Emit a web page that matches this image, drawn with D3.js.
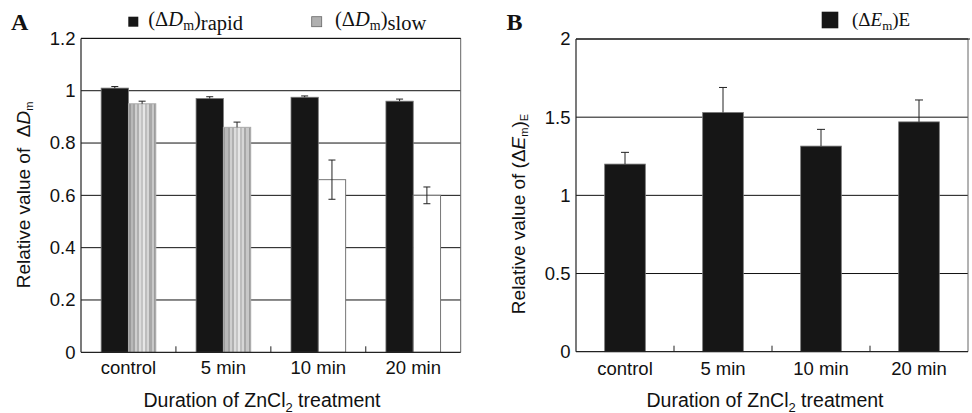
<!DOCTYPE html>
<html><head><meta charset="utf-8">
<script src="https://cdn.jsdelivr.net/npm/d3@7"></script>
<style>body{margin:0;background:#fff} svg{display:block}</style>
</head><body><svg id="c" width="972" height="413"></svg>
<script>
// ---------- data ----------
const categories = ["control", "5 min", "10 min", "20 min"];
const rapidValues = [1.01, 0.97, 0.975, 0.96];
const rapidErrors = [0.006, 0.007, 0.005, 0.008];
const slowValues = [0.95, 0.86, 0.66, 0.60];
const slowErrors = [0.01, 0.02, 0.075, 0.032];
const eValues = [1.2, 1.53, 1.315, 1.47];
const eErrors = [0.075, 0.16, 0.107, 0.14];
const aTicks = [0, 0.2, 0.4, 0.6, 0.8, 1, 1.2];
const bTicks = [0, 0.5, 1, 1.5, 2];

// ---------- style ----------
const SANS = "'Liberation Sans', Arial, Helvetica, sans-serif";
const SERIF = "'Liberation Serif', 'Times New Roman', serif";
const BAR = "#161616";
const slowStriped = [true, true, false, false];

const svg = d3.select("#c");
const defs = svg.append("defs");
const grad = defs.append("linearGradient").attr("id", "stripes")
  .attr("x1", 0).attr("x2", 1).attr("y1", 0).attr("y2", 0);
const stripeCols = ["#9a9a9a","#b8b8b8","#a4a4a4","#cfcfcf","#b0b0b0","#dcdcdc","#c4c4c4","#e6e6e6","#bdbdbd","#d6d6d6","#a8a8a8","#c8c8c8","#9c9c9c"];
stripeCols.forEach((c, i) => {
  grad.append("stop").attr("offset", i / stripeCols.length).attr("stop-color", c);
  grad.append("stop").attr("offset", (i + 1) / stripeCols.length).attr("stop-color", c);
});

function panel(opts) {
  const g = svg.append("g");
  const x = d3.scaleBand().domain(categories).range([opts.left, opts.right]);
  const y = d3.scaleLinear().domain([0, opts.max]).range([opts.bottom, opts.top]);
  g.append("g").selectAll("line").data(opts.ticks.filter(t => t > 0)).join("line")
    .attr("x1", opts.left).attr("x2", opts.right)
    .attr("y1", d => y(d)).attr("y2", d => y(d))
    .attr("stroke", "#111").attr("stroke-width", 1);
  g.append("line").attr("x1", opts.right).attr("x2", opts.right)
    .attr("y1", y(opts.max)).attr("y2", y(0)).attr("stroke", "#666").attr("stroke-width", 1);
  return {g, x, y};
}

function errorBars(g, data, yScale, cap, lowerFor) {
  data.forEach(d => {
    g.append("line").attr("x1", d.cx).attr("x2", d.cx)
      .attr("y1", yScale(d.v + d.e)).attr("y2", yScale(lowerFor(d) ? d.v - d.e : d.v))
      .attr("stroke", "#222").attr("stroke-width", 1);
    g.append("line").attr("x1", d.cx - cap / 2).attr("x2", d.cx + cap / 2)
      .attr("y1", yScale(d.v + d.e)).attr("y2", yScale(d.v + d.e))
      .attr("stroke", "#222").attr("stroke-width", 1);
    if (lowerFor(d)) {
      g.append("line").attr("x1", d.cx - cap / 2).attr("x2", d.cx + cap / 2)
        .attr("y1", yScale(d.v - d.e)).attr("y2", yScale(d.v - d.e))
        .attr("stroke", "#222").attr("stroke-width", 1);
    }
  });
}

function axes(p, opts) {
  const {g, x, y} = p;
  g.append("line").attr("x1", opts.left).attr("x2", opts.right)
    .attr("y1", y(0)).attr("y2", y(0)).attr("stroke", "#222").attr("stroke-width", 1.2);
  g.append("line").attr("x1", opts.left).attr("x2", opts.left)
    .attr("y1", y(0)).attr("y2", y(opts.max)).attr("stroke", "#222").attr("stroke-width", 1.2);
  d3.range(1, categories.length).forEach(i => {
    const xx = opts.left + i * x.step();
    g.append("line").attr("x1", xx).attr("x2", xx).attr("y1", y(0)).attr("y2", y(0) - 6)
      .attr("stroke", "#222").attr("stroke-width", 1);
  });
  const xa = g.append("g").attr("transform", `translate(0,${y(0)})`)
    .call(d3.axisBottom(x).tickSize(0).tickPadding(opts.xPad));
  xa.select(".domain").remove();
  xa.selectAll("text").attr("font-family", SANS).attr("font-size", 18.5).attr("fill", "#111");
  const ya = g.append("g").attr("transform", `translate(${opts.left},0)`)
    .call(d3.axisLeft(y).tickValues(opts.ticks).tickFormat(d3.format("")).tickSize(0).tickPadding(5.5));
  ya.select(".domain").remove();
  ya.selectAll("text").attr("font-family", SANS).attr("font-size", 18.5).attr("fill", "#111");
  const t = g.append("text").attr("x", opts.xTitleX).attr("y", 406.5)
    .attr("text-anchor", "middle").attr("font-family", SANS).attr("font-size", 19.5).attr("fill", "#111");
  t.append("tspan").text("Duration of ZnCl");
  t.append("tspan").attr("font-size", 13).attr("dy", 5).text("2");
  t.append("tspan").attr("dy", -5).text(" treatment");
}

// ---------- Panel A ----------
const optsA = {left: 81, right: 460.7, top: 38.4, bottom: 352.3, max: 1.2, ticks: aTicks, xPad: 9, xTitleX: 262};
const pA = panel(optsA);
const xIn = d3.scaleBand().domain(["rapid", "slow"]).range([0, pA.x.bandwidth()]).paddingOuter(0.738);
const rapidData = categories.map((c, i) => ({c, v: rapidValues[i], e: rapidErrors[i], i}));
const slowData = categories.map((c, i) => ({c, v: slowValues[i], e: slowErrors[i], i}));
pA.g.append("g").selectAll("rect").data(rapidData).join("rect")
  .attr("x", d => pA.x(d.c) + xIn("rapid")).attr("width", xIn.bandwidth())
  .attr("y", d => pA.y(d.v)).attr("height", d => pA.y(0) - pA.y(d.v))
  .attr("fill", BAR).attr("stroke", "#777").attr("stroke-width", 0.8);
pA.g.append("g").selectAll("rect").data(slowData).join("rect")
  .attr("x", d => pA.x(d.c) + xIn("slow")).attr("width", xIn.bandwidth())
  .attr("y", d => pA.y(d.v)).attr("height", d => pA.y(0) - pA.y(d.v))
  .attr("fill", d => slowStriped[d.i] ? "url(#stripes)" : "#fff")
  .attr("stroke", d => slowStriped[d.i] ? "#aaa" : "#777").attr("stroke-width", 1);
rapidData.forEach(d => d.cx = pA.x(d.c) + xIn("rapid") + xIn.bandwidth() / 2);
slowData.forEach(d => d.cx = pA.x(d.c) + xIn("slow") + xIn.bandwidth() / 2);
errorBars(pA.g, rapidData, pA.y, 7, d => false);
errorBars(pA.g, slowData, pA.y, 7, d => !slowStriped[d.i]);
pA.g.append("line").attr("x1", optsA.left).attr("x2", optsA.right)
  .attr("y1", pA.y(1.2)).attr("y2", pA.y(1.2)).attr("stroke", "#111");
axes(pA, optsA);

{
  const t = svg.append("text").attr("transform", "translate(29.5,195) rotate(-90)")
    .attr("text-anchor", "middle").attr("font-family", SANS).attr("font-size", 19).attr("fill", "#111");
  t.append("tspan").text("Relative value of \u00a0\u0394");
  t.append("tspan").attr("font-style", "italic").text("D");
  t.append("tspan").attr("font-size", 11).attr("dy", 3).text("m");
}
svg.append("rect").attr("x", 128.3).attr("y", 16.7).attr("width", 10).attr("height", 10).attr("fill", BAR);
{
  const t = svg.append("text").attr("x", 148.3).attr("y", 26).attr("font-family", SERIF).attr("font-size", 20.5).attr("fill", "#111");
  t.append("tspan").text("(\u0394");
  t.append("tspan").attr("font-style", "italic").text("D");
  t.append("tspan").attr("font-size", 14).attr("dy", 4).text("m");
  t.append("tspan").attr("dy", -4).text(")");
  t.append("tspan").attr("dy", 4).text("rapid");
}
svg.append("rect").attr("x", 311.7).attr("y", 16.7).attr("width", 10).attr("height", 10).attr("fill", "#b0b0b0").attr("stroke", "#666").attr("stroke-width", 0.8);
{
  const t = svg.append("text").attr("x", 335).attr("y", 26).attr("font-family", SERIF).attr("font-size", 20.5).attr("fill", "#111");
  t.append("tspan").text("(\u0394");
  t.append("tspan").attr("font-style", "italic").text("D");
  t.append("tspan").attr("font-size", 14).attr("dy", 4).text("m");
  t.append("tspan").attr("dy", -4).text(")");
  t.append("tspan").attr("dy", 4).text("slow");
}
svg.append("text").attr("x", 11).attr("y", 29.5).attr("font-family", SERIF).attr("font-weight", "bold")
  .attr("font-size", 24).attr("fill", "#111").text("A");

// ---------- Panel B ----------
const optsB = {left: 576, right: 968, top: 39, bottom: 351.7, max: 2, ticks: bTicks, xPad: 10, xTitleX: 765};
const pB = panel(optsB);
const xB = d3.scaleBand().domain(categories).range([optsB.left, optsB.right]).paddingInner(0.585).paddingOuter(0.2925);
const eData = categories.map((c, i) => ({c, v: eValues[i], e: eErrors[i], i}));
pB.g.append("g").selectAll("rect").data(eData).join("rect")
  .attr("x", d => xB(d.c)).attr("width", xB.bandwidth())
  .attr("y", d => pB.y(d.v)).attr("height", d => pB.y(0) - pB.y(d.v))
  .attr("fill", BAR).attr("stroke", "#777").attr("stroke-width", 0.8);
eData.forEach(d => d.cx = xB(d.c) + xB.bandwidth() / 2);
errorBars(pB.g, eData, pB.y, 8, d => false);
pB.g.append("line").attr("x1", optsB.left).attr("x2", optsB.right + 2)
  .attr("y1", pB.y(2)).attr("y2", pB.y(2)).attr("stroke", "#111");
axes(pB, optsB);

{
  const t = svg.append("text").attr("transform", "translate(525,214) rotate(-90)")
    .attr("text-anchor", "middle").attr("font-family", SANS).attr("font-size", 19).attr("fill", "#111");
  t.append("tspan").text("Relative value of (\u0394");
  t.append("tspan").attr("font-style", "italic").text("E");
  t.append("tspan").attr("font-size", 11).attr("dy", 3).text("m");
  t.append("tspan").attr("dy", -3).text(")");
  t.append("tspan").attr("font-size", 11).attr("dy", 3).text("E");
}
svg.append("rect").attr("x", 821.7).attr("y", 11.7).attr("width", 16.6).attr("height", 16.6).attr("fill", BAR);
{
  const t = svg.append("text").attr("x", 852).attr("y", 26).attr("font-family", SERIF).attr("font-size", 19).attr("fill", "#111");
  t.append("tspan").text("(\u0394");
  t.append("tspan").attr("font-style", "italic").text("E");
  t.append("tspan").attr("font-size", 13).attr("dy", 4).text("m");
  t.append("tspan").attr("dy", -4).text(")E");
}
svg.append("text").attr("x", 506.5).attr("y", 29.5).attr("font-family", SERIF).attr("font-weight", "bold")
  .attr("font-size", 24).attr("fill", "#111").text("B");
</script></body></html>
